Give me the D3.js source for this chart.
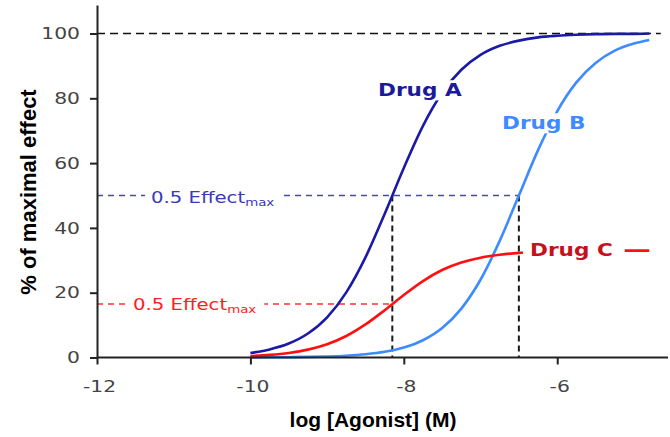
<!DOCTYPE html>
<html>
<head>
<meta charset="utf-8">
<script src="https://cdn.jsdelivr.net/npm/d3@7"></script>
<style>
  html, body { margin: 0; padding: 0; background: #fff; }
  svg { display: block; }
</style>
</head>
<body>
<svg id="chart" width="670" height="437"></svg>
<script>
// Log agonist concentration (M) at which each response was read
const logDose = [-10, -9.75, -9.5, -9.25, -9, -8.75, -8.5, -8.25, -8, -7.75, -7.5, -7.25,
                 -7, -6.75, -6.5, -6.25, -6, -5.75, -5.5, -5.25, -5, -4.8];
// % of maximal effect for each drug
const drugA = [1.4, 2.5, 4.3, 7.4, 12.4, 20.1, 30.9, 44.3, 58.5, 71.5, 81.7, 88.8,
               93.4, 96.2, 97.8, 98.8, 99.3, 99.6, 99.8, 99.9, 99.9, 100];
const drugB = [0.03, 0.06, 0.1, 0.18, 0.32, 0.56, 0.99, 1.75, 3.07, 5.32, 9.09, 15.1,
               24.0, 36.0, 50.0, 64.0, 76.0, 84.9, 90.9, 94.7, 96.9, 98.0];
const drugC = [0.46, 0.81, 1.41, 2.43, 4.09, 6.63, 10.2, 14.6, 19.3, 23.6, 27.0, 29.3,
               30.8, 31.7, 32.3, 32.6, 32.8, 32.9, 32.9, 33.0, 33.0, 33.0];
// Half-maximal responses and the matching log EC50 values
const ec50A = -8.15, ec50B = -6.5, ec50C = -8.15;
const halfAB = 50, halfC = 16.5, maxEffect = 100;
const xTicks = [-12, -10, -8, -6];
const yTicks = [0, 20, 40, 60, 80, 100];

const svg = d3.select("#chart");
const x = d3.scaleLinear().domain([-12, -4.6]).range([97, 664.6]);
const y = d3.scaleLinear().domain([0, 108.8]).range([357.5, 5]);

const navy = "#1a1aa6", sky = "#3d8bff", red = "#ff1010";
const vera = "'DejaVu Sans', Verdana, sans-serif";
const WIDE = 1.27; // horizontal stretch applied to the Verdana-style text

// Reference lines
svg.append("line")
  .attr("x1", x(-12)).attr("x2", x(-4.65))
  .attr("y1", y(maxEffect)).attr("y2", y(maxEffect))
  .attr("stroke", "#111").attr("stroke-width", 1.6).attr("stroke-dasharray", "8,5");

svg.append("line")
  .attr("x1", x(-12)).attr("x2", x(ec50B))
  .attr("y1", y(halfAB)).attr("y2", y(halfAB))
  .attr("stroke", "#4545c8").attr("stroke-width", 1.4).attr("stroke-dasharray", "6,5");

svg.append("line")
  .attr("x1", x(-12)).attr("x2", x(ec50C))
  .attr("y1", y(halfC)).attr("y2", y(halfC))
  .attr("stroke", "#ff3030").attr("stroke-width", 1.4).attr("stroke-dasharray", "6,5");

[[ec50A, halfAB], [ec50B, halfAB]].forEach(([ec, h]) => {
  svg.append("line")
    .attr("x1", x(ec)).attr("x2", x(ec))
    .attr("y1", y(h)).attr("y2", y(0))
    .attr("stroke", "#1a1a1a").attr("stroke-width", 2).attr("stroke-dasharray", "6,4");
});

// Dose-response curves
const line = d3.line().x(d => x(d[0])).y(d => y(d[1])).curve(d3.curveMonotoneX);
[[drugB, sky], [drugC, red], [drugA, navy]].forEach(([vals, col]) => {
  svg.append("path")
    .datum(logDose.map((v, i) => [v, vals[i]]))
    .attr("d", line)
    .attr("fill", "none").attr("stroke", col).attr("stroke-width", 2.6);
});

// Axes
const xAxis = svg.append("g").attr("transform", `translate(0,${y(0)})`)
  .call(d3.axisBottom(x).tickValues(xTicks).tickSize(7).tickSizeOuter(0).tickFormat(d => String(d)));
const yAxis = svg.append("g").attr("transform", `translate(${x(-12)},0)`)
  .call(d3.axisLeft(y).tickValues(yTicks).tickSize(7).tickSizeOuter(0));
[xAxis, yAxis].forEach(g => {
  g.select(".domain").attr("stroke", "#222").attr("stroke-width", 2);
  g.selectAll(".tick line").attr("stroke", "#222").attr("stroke-width", 2);
  g.selectAll(".tick text").attr("fill", "#444")
    .style("font-family", vera).style("font-size", "16px");
});
xAxis.select(".domain").attr("d", `M${x(-12)},0H668`);
xAxis.selectAll(".tick text")
  .attr("y", 0).attr("dy", null)
  .attr("transform", `translate(2,34) scale(${WIDE},1)`);
yAxis.selectAll(".tick text")
  .attr("x", 0)
  .attr("transform", `translate(-17,0) scale(${WIDE},1)`);

// Axis titles
svg.append("text")
  .attr("x", 373).attr("y", 427).attr("text-anchor", "middle")
  .style("font-family", "'Liberation Sans', Arial, sans-serif")
  .style("font-weight", "bold").style("font-size", "21px").attr("fill", "#000")
  .text("log [Agonist] (M)");
svg.append("text")
  .attr("transform", "translate(36,192) rotate(-90)").attr("text-anchor", "middle")
  .style("font-family", "'Liberation Sans', Arial, sans-serif")
  .style("font-weight", "bold").style("font-size", "22px").attr("fill", "#000")
  .text("% of maximal effect");

// Labels with a white backing that breaks the lines behind them
function label(px, py, parts, color, size, padL, padR) {
  const g = svg.append("g").attr("transform", `translate(${px},${py}) scale(${WIDE},1)`);
  const bg = g.append("rect").attr("fill", "#fff");
  const t = g.append("text").attr("x", 0).attr("y", 0).attr("fill", color)
    .style("font-family", vera).style("font-size", size + "px");
  parts.forEach(p => {
    const s = t.append("tspan").text(p.text);
    if (p.bold) s.style("font-weight", "bold");
    if (p.sub) s.style("font-size", (size * 0.68) + "px").attr("dy", "0.3em");
  });
  const b = t.node().getBBox();
  bg.attr("x", b.x - padL / WIDE).attr("y", b.y)
    .attr("width", b.width + (padL + padR) / WIDE).attr("height", b.height);
}

label(378, 96, [{ text: "Drug A", bold: true }], "#1a1a9a", 17, 4, 4);
label(502, 129, [{ text: "Drug B", bold: true }], "#3d8bff", 17, 4, 4);
label(530, 256, [{ text: "Drug C", bold: true }], "#c8101a", 17, 7, 12);
label(151, 203, [{ text: "0.5 Effect" }, { text: "max", sub: true }], "#3a3ab8", 15.5, 6, 7);
label(133, 310, [{ text: "0.5 Effect" }, { text: "max", sub: true }], "#ff2020", 15.5, 6, 8);
</script>
</body>
</html>
